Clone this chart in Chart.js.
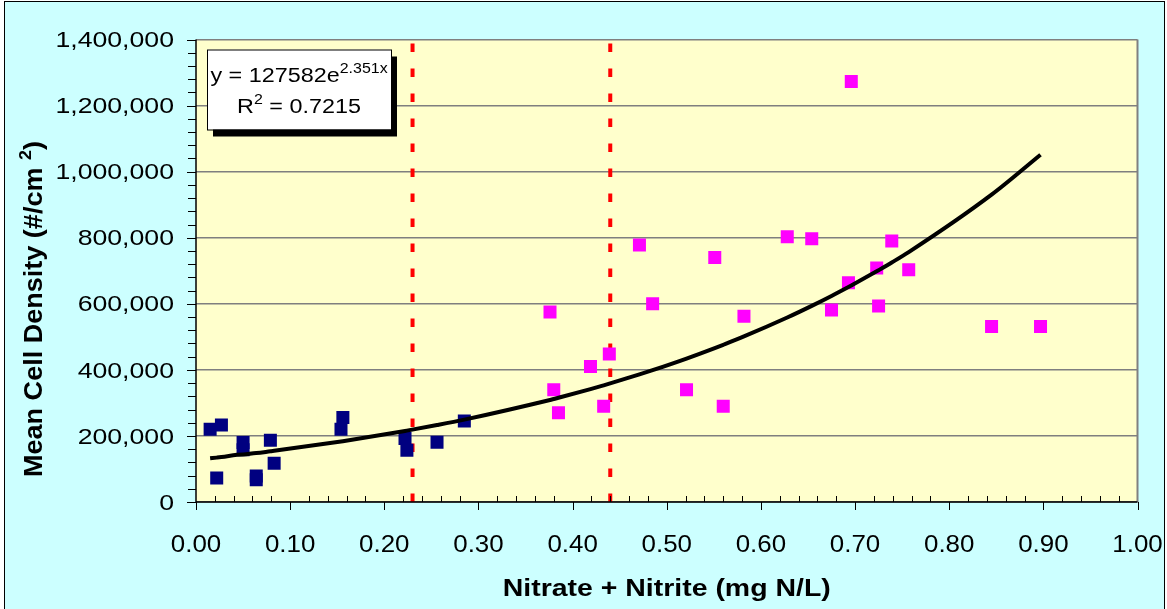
<!DOCTYPE html>
<html>
<head>
<meta charset="utf-8">
<script src="https://cdn.jsdelivr.net/npm/chart.js@4/dist/chart.umd.min.js"></script>
<style>
  html, body { margin: 0; padding: 0; background: #ffffff; }
  #wrap { width: 1167px; height: 609px; }
</style>
</head>
<body>
<div id="wrap"><canvas id="chart" width="1167" height="609"></canvas></div>
<script>
// stations below the nutrient cutoff (navy) and above it (magenta)
const lowX  = [0.015, 0.027, 0.022, 0.050, 0.050, 0.064, 0.064, 0.079, 0.083, 0.154, 0.156, 0.222, 0.224, 0.256, 0.285];
const lowY  = [220000, 233000, 73000, 180000, 158000, 79000, 67000, 187000, 117000, 220000, 256000, 192000, 157000, 181000, 245000];
const highX = [0.376, 0.380, 0.385, 0.419, 0.433, 0.439, 0.471, 0.485, 0.521, 0.551, 0.560, 0.582, 0.628, 0.654, 0.675, 0.693, 0.696, 0.723, 0.725, 0.739, 0.757, 0.845, 0.897];
const highY = [575000, 340000, 270000, 410000, 290000, 448000, 778000, 600000, 340000, 740000, 290000, 562000, 803000, 797000, 581000, 664000, 1273000, 708000, 593000, 790000, 703000, 531000, 531000];

// exponential fit reported on the chart
const fitA = 127582;
const fitB = 2.351;
const fitR2 = 0.7215;

// vertical cutoff lines
const cutoffs = [0.23, 0.44];

const xTickLabels = ['0.00', '0.10', '0.20', '0.30', '0.40', '0.50', '0.60', '0.70', '0.80', '0.90', '1.00'];
const yTickLabels = ['0', '200,000', '400,000', '600,000', '800,000', '1,000,000', '1,200,000', '1,400,000'];

const FONT = "'Liberation Sans', Arial, sans-serif";

function toPoints(xs, ys) {
  return xs.map((x, i) => ({ x: x, y: ys[i] }));
}

// fitted curve evaluated at every observed x
const fitX = lowX.concat(highX).slice().sort((a, b) => a - b);
const fitPoints = fitX.map(x => ({ x: x, y: fitA * Math.exp(fitB * x) }));

// draw a row of text runs (main text + superscripts), stretched horizontally
function drawRuns(ctx, runs, x, y, opt) {
  ctx.save();
  let w = 0;
  runs.forEach(r => { ctx.font = r.font; r.w = ctx.measureText(r.t).width; w += r.w; });
  ctx.translate(x, y);
  if (opt.rot) ctx.rotate(opt.rot);
  ctx.scale(opt.sx || 1, opt.sy || 1);
  let cx = opt.align === 'right' ? -w : (opt.align === 'center' ? -w / 2 : 0);
  ctx.fillStyle = opt.color || '#000';
  ctx.textBaseline = 'alphabetic';
  ctx.textAlign = 'left';
  runs.forEach(r => {
    ctx.font = r.font;
    ctx.fillText(r.t, cx, r.rise || 0);
    cx += r.w;
  });
  ctx.restore();
}

const framePlugin = {
  id: 'frame',
  beforeDraw(chart) {
    const ctx = chart.ctx;
    const a = chart.chartArea;
    ctx.save();
    ctx.fillStyle = '#ffffff';
    ctx.fillRect(0, 0, chart.width, chart.height);
    ctx.fillStyle = '#ccffff';
    ctx.fillRect(5, 1.5, chart.width - 8, chart.height + 10);
    ctx.strokeStyle = '#000';
    ctx.lineWidth = 1;
    ctx.strokeRect(4.5, 1.5, chart.width - 7, chart.height + 10);
    ctx.fillStyle = '#ffffcc';
    ctx.fillRect(a.left, a.top, a.right - a.left, a.bottom - a.top);
    ctx.restore();
  },
  afterDraw(chart) {
    const ctx = chart.ctx;
    const a = chart.chartArea;
    const xs = chart.scales.x;
    const ys = chart.scales.y;
    ctx.save();

    // right edge of plot area
    ctx.strokeStyle = '#808080';
    ctx.lineWidth = 2;
    ctx.beginPath();
    ctx.moveTo(a.right, a.top);
    ctx.lineTo(a.right, a.bottom);
    ctx.stroke();

    // axes
    ctx.strokeStyle = '#000';
    ctx.lineWidth = 1.5;
    ctx.beginPath();
    ctx.moveTo(a.left, a.top);
    ctx.lineTo(a.left, a.bottom);
    ctx.lineTo(a.right, a.bottom);
    ctx.stroke();

    // x ticks: major every 0.1 below the axis, minor every 0.02 inside
    ctx.lineWidth = 1;
    for (let i = 0; i <= 50; i++) {
      const px = Math.round(xs.getPixelForValue(i / 50)) + 0.5;
      ctx.beginPath();
      if (i % 5 === 0) {
        ctx.moveTo(px, a.bottom);
        ctx.lineTo(px, a.bottom + 8);
      } else {
        ctx.moveTo(px, a.bottom);
        ctx.lineTo(px, a.bottom - 6);
      }
      ctx.stroke();
    }
    // y ticks every 40,000, outside
    for (let i = 0; i <= 35; i++) {
      const py = Math.round(ys.getPixelForValue(i * 40000)) + 0.5;
      ctx.beginPath();
      ctx.moveTo(a.left, py);
      ctx.lineTo(a.left - (i % 5 === 0 ? 9 : 8), py);
      ctx.stroke();
    }

    // tick labels
    xTickLabels.forEach((t, i) => {
      const px = xs.getPixelForValue(i * 0.1);
      drawRuns(ctx, [{ t: t, font: '24px ' + FONT }], px, a.bottom + 50, { align: 'center', sx: 1.08 });
    });
    yTickLabels.forEach((t, i) => {
      const py = ys.getPixelForValue(i * 200000);
      drawRuns(ctx, [{ t: t, font: '21.5px ' + FONT }], a.left - 22, py + 7.7, { align: 'right', sx: 1.24 });
    });

    // axis titles
    const bold = 'bold 23.5px ' + FONT;
    ctx.font = bold;
    const xt = 'Nitrate + Nitrite (mg N/L)';
    const xsx = 328 / ctx.measureText(xt).width;
    drawRuns(ctx, [{ t: xt, font: bold }], (a.left + a.right) / 2, a.bottom + 94, { align: 'center', sx: xsx });

    const yRuns = [
      { t: 'Mean Cell Density (#/cm ', font: 'bold 24px ' + FONT },
      { t: '2', font: 'bold 16px ' + FONT, rise: -10 },
      { t: ')', font: 'bold 24px ' + FONT }
    ];
    let yw = 0;
    yRuns.forEach(r => { ctx.font = r.font; yw += ctx.measureText(r.t).width; });
    drawRuns(ctx, yRuns, 41.5, 309, { align: 'center', rot: -Math.PI / 2, sx: 336 / yw, sy: 1.05 });

    // equation box with drop shadow
    const bx = a.left + 11, by = a.top + 10, bw = 184, bh = 80;
    ctx.fillStyle = '#000';
    ctx.fillRect(bx + 6, by + 7, bw, bh);
    ctx.fillStyle = '#fff';
    ctx.fillRect(bx, by, bw, bh);
    ctx.strokeStyle = '#000';
    ctx.lineWidth = 1;
    ctx.strokeRect(bx + 0.5, by + 0.5, bw, bh);

    const eqFont = '20.5px ' + FONT;
    const supFont = '14px ' + FONT;
    drawRuns(ctx, [
      { t: 'y = ' + fitA + 'e', font: eqFont },
      { t: fitB + 'x', font: supFont, rise: -9 }
    ], bx + bw / 2, by + 32, { align: 'center', sx: 1.14 });
    drawRuns(ctx, [
      { t: 'R', font: eqFont },
      { t: '2', font: supFont, rise: -9 },
      { t: ' = ' + fitR2, font: eqFont }
    ], bx + bw / 2, by + 63, { align: 'center', sx: 1.14 });

    ctx.restore();
  }
};

const cutoffSets = cutoffs.map(c => ({
  data: [{ x: c, y: 0 }, { x: c, y: 1400000 }],
  showLine: true,
  borderColor: '#ff0000',
  borderWidth: 4,
  borderDash: [8.5, 16.5],
  borderCapStyle: 'butt',
  pointRadius: 0,
  order: 3
}));

new Chart(document.getElementById('chart'), {
  type: 'scatter',
  data: {
    datasets: [
      {
        data: fitPoints,
        showLine: true,
        borderColor: '#000000',
        borderWidth: 4,
        pointRadius: 0,
        cubicInterpolationMode: 'monotone',
        order: 0
      },
      {
        data: toPoints(lowX, lowY),
        pointStyle: 'rect',
        pointRadius: 9.2,
        backgroundColor: '#000080',
        borderColor: '#000080',
        borderWidth: 0,
        order: 1
      },
      {
        data: toPoints(highX, highY),
        pointStyle: 'rect',
        pointRadius: 9.2,
        backgroundColor: '#ff00ff',
        borderColor: '#ff00ff',
        borderWidth: 0,
        order: 1
      }
    ].concat(cutoffSets)
  },
  options: {
    responsive: false,
    devicePixelRatio: 1,
    animation: false,
    layout: { padding: { left: 196, right: 29.5, top: 39.5, bottom: 107 } },
    plugins: { legend: { display: false }, tooltip: { enabled: false } },
    scales: {
      x: {
        type: 'linear',
        min: 0,
        max: 1,
        ticks: { stepSize: 0.1, display: false },
        grid: { display: false, drawTicks: false },
        border: { display: false }
      },
      y: {
        min: 0,
        max: 1400000,
        ticks: { stepSize: 200000, display: false },
        grid: { color: '#7f7f7f', lineWidth: 1.5, drawTicks: false },
        border: { display: false }
      }
    }
  },
  plugins: [framePlugin]
});
</script>
</body>
</html>
